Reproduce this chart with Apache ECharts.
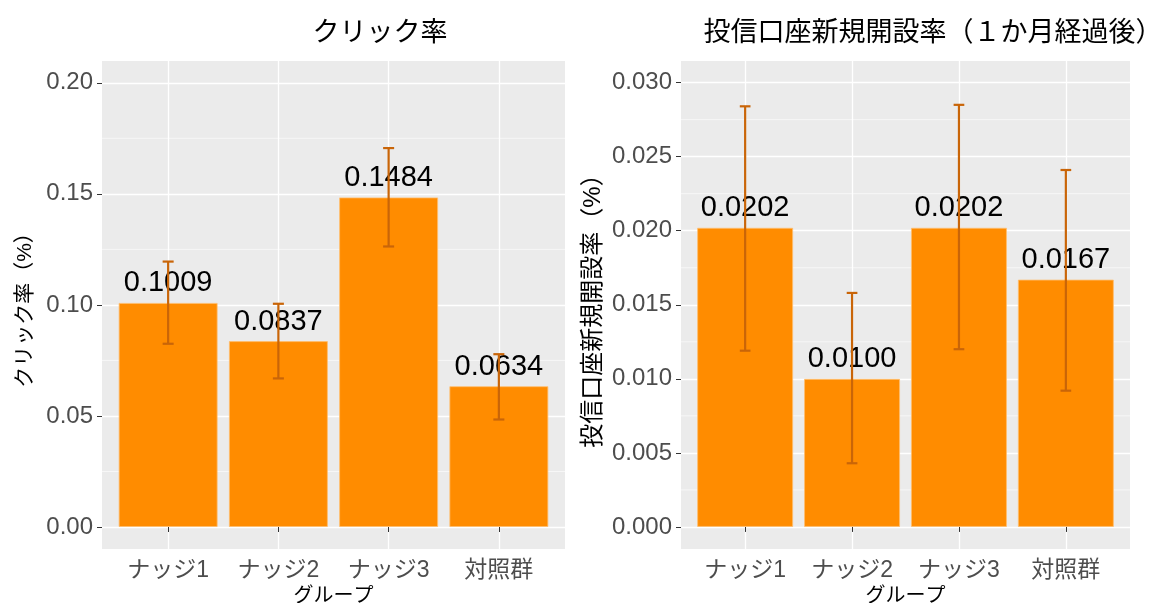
<!DOCTYPE html>
<html>
<head>
<meta charset="utf-8">
<script src="https://cdn.jsdelivr.net/npm/echarts@6/dist/echarts.min.js"></script>
<style>
  html, body { margin: 0; padding: 0; background: #fff; }
  #main { width: 1159px; height: 603px; }
</style>
</head>
<body>
<div id="main"></div>
<script>
// groups and values
var groups = ['ナッジ1', 'ナッジ2', 'ナッジ3', '対照群'];
var groupPos = [1, 2, 3, 4];

var clickRate = [0.1009, 0.0837, 0.1484, 0.0634];
var clickLow = [0.0825, 0.0669, 0.1263, 0.0484];
var clickHigh = [0.1195, 0.1005, 0.1706, 0.0778];

var openRate = [0.0202, 0.0100, 0.0202, 0.0167];
var openLow = [0.0119, 0.0043, 0.0120, 0.0092];
var openHigh = [0.0284, 0.0158, 0.0285, 0.0241];

var clickTicks = [0, 0.05, 0.10, 0.15, 0.20];
var clickMinor = [0.025, 0.075, 0.125, 0.175];
var openTicks = [0, 0.005, 0.010, 0.015, 0.020, 0.025, 0.030];
var openMinor = [0.0025, 0.0075, 0.0125, 0.0175, 0.0225, 0.0275];

var jp = "'Liberation Sans', 'Noto Sans CJK JP', sans-serif";

function pairs(xs, ys) {
  return xs.map(function (x, i) { return [x, ys[i]]; });
}

function errData(lo, hi) {
  return groupPos.map(function (x, i) { return [x, lo[i], hi[i]]; });
}

function renderErr(params, api) {
  var x = api.value(0);
  var lo = api.coord([x, api.value(1)]);
  var hi = api.coord([x, api.value(2)]);
  var hw = api.size([0.1, 0])[0] / 2;
  var st = { stroke: '#C96508', lineWidth: 2.2 };
  return {
    type: 'group',
    children: [
      { type: 'line', shape: { x1: lo[0], y1: lo[1], x2: hi[0], y2: hi[1] }, style: st },
      { type: 'line', shape: { x1: hi[0] - hw, y1: hi[1], x2: hi[0] + hw, y2: hi[1] }, style: st },
      { type: 'line', shape: { x1: lo[0] - hw, y1: lo[1], x2: lo[0] + hw, y2: lo[1] }, style: st }
    ]
  };
}

function renderMinor(params, api) {
  var cs = params.coordSys;
  var p = api.coord([0.4, api.value(0)]);
  return {
    type: 'line',
    shape: { x1: cs.x, y1: p[1], x2: cs.x + cs.width, y2: p[1] },
    style: { stroke: '#ffffff', lineWidth: 0.6 }
  };
}

function xAxisOpt(idx) {
  return {
    type: 'value', gridIndex: idx, min: 0.4, max: 4.6,
    name: 'グループ', nameLocation: 'middle', nameGap: 35,
    nameTextStyle: { fontFamily: jp, fontSize: 20, color: '#000' },
    axisLine: { show: false },
    axisTick: { show: true, length: 5, customValues: groupPos, lineStyle: { color: '#333', width: 1 } },
    axisLabel: {
      customValues: groupPos, margin: 10, fontFamily: jp, fontSize: 23, color: '#4D4D4D',
      formatter: function (v) { return groups[Math.round(v) - 1]; }
    },
    splitLine: { show: true, lineStyle: { color: '#ffffff', width: 1.3 } }
  };
}

function yAxisOpt(idx, min, max, ticks, dec, name, nameSize, gap) {
  return {
    type: 'value', gridIndex: idx, min: min, max: max,
    name: name, nameLocation: 'middle', nameGap: gap,
    nameTextStyle: { fontFamily: jp, fontSize: nameSize, color: '#000' },
    axisLine: { show: false },
    axisTick: { show: true, length: 5, customValues: ticks, lineStyle: { color: '#333', width: 1 } },
    axisLabel: {
      customValues: ticks, margin: 9, fontFamily: 'Liberation Sans', fontSize: 24, color: '#4D4D4D',
      formatter: function (v) { return v.toFixed(dec); }
    },
    splitLine: { show: true, lineStyle: { color: '#ffffff', width: 1.3 } }
  };
}

function barSeries(idx, vals, w) {
  return {
    type: 'bar', xAxisIndex: idx, yAxisIndex: idx, z: 2,
    data: pairs(groupPos, vals), barWidth: w,
    itemStyle: { color: '#FF8C00', borderColor: 'rgba(255,190,110,0.8)', borderWidth: 1 },
    label: {
      show: true, position: 'top', distance: 5, color: '#000',
      fontFamily: 'Liberation Sans', fontSize: 29,
      formatter: function (p) { return p.value[1].toFixed(4); }
    }
  };
}

var chart = echarts.init(document.getElementById('main'), null, { renderer: 'canvas' });
chart.setOption({
  animation: false,
  backgroundColor: '#ffffff',
  title: [
    { text: 'クリック率', left: 375, top: 15, textAlign: 'center',
      textStyle: { fontFamily: jp, fontSize: 27, fontWeight: 'normal', color: '#000' } },
    { text: '投信口座新規開設率（１か月経過後）', left: 928, top: 15, textAlign: 'center',
      textStyle: { fontFamily: jp, fontSize: 27, fontWeight: 'normal', color: '#000' } }
  ],
  grid: [
    { left: 102, top: 61, width: 463, height: 488, outerBoundsMode: 'none', containLabel: false,
      show: true, backgroundColor: '#EBEBEB', borderWidth: 0 },
    { left: 681, top: 61, width: 449, height: 488, outerBoundsMode: 'none', containLabel: false,
      show: true, backgroundColor: '#EBEBEB', borderWidth: 0 }
  ],
  xAxis: [xAxisOpt(0), xAxisOpt(1)],
  yAxis: [
    yAxisOpt(0, -0.0099, 0.2098, clickTicks, 2, 'クリック率（%）', 21, 66),
    yAxisOpt(1, -0.00149, 0.03146, openTicks, 3, '投信口座新規開設率（%）', 24, 76)
  ],
  series: [
    { type: 'custom', xAxisIndex: 0, yAxisIndex: 0, z: 1, silent: true,
      data: clickMinor.map(function (v) { return [v]; }), renderItem: renderMinor },
    { type: 'custom', xAxisIndex: 1, yAxisIndex: 1, z: 1, silent: true,
      data: openMinor.map(function (v) { return [v]; }), renderItem: renderMinor },
    barSeries(0, clickRate, 99),
    barSeries(1, openRate, 96),
    { type: 'custom', xAxisIndex: 0, yAxisIndex: 0, z: 5,
      data: errData(clickLow, clickHigh), renderItem: renderErr },
    { type: 'custom', xAxisIndex: 1, yAxisIndex: 1, z: 5,
      data: errData(openLow, openHigh), renderItem: renderErr }
  ]
});
</script>
</body>
</html>
